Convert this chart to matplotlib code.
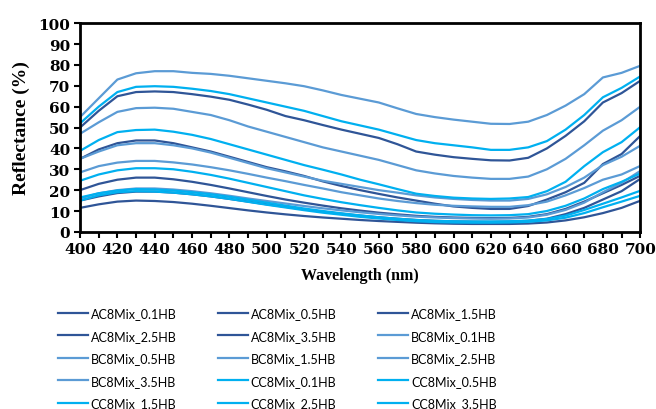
import matplotlib.pyplot as plt
import numpy as np

# wavelength grid (nm)
wl = np.arange(400, 701, 10)

# reflectance (%)
AC_01 = [50, 58, 65, 67, 67.3, 67, 66, 64.8, 63.3, 61, 58.5, 55.5, 53.5, 51.2, 49, 47, 45, 42, 38.5, 37, 35.8, 35, 34.3, 34.2, 35.5, 40, 46, 53, 62, 66.5, 72.4]
AC_05 = [35, 39.5, 42.5, 43.8, 43.8, 42.5, 40.5, 38.5, 36, 33.5, 31, 29, 26.8, 24.2, 22, 20, 18.2, 16.5, 15, 13.5, 12.2, 11.5, 11, 11, 12.4, 15.5, 19, 23.5, 32.5, 37.3, 46]
AC_15 = [20, 23, 25, 26, 26, 25.2, 24, 22.5, 20.8, 19, 17.2, 15.5, 14, 12.6, 11.3, 10.2, 9.2, 8.4, 7.7, 7.2, 6.9, 6.7, 6.6, 6.7, 7.2, 8.5, 11, 14.5, 18.5, 22.5, 26.9]
AC_25 = [15, 17, 18.6, 19.3, 19.3, 18.8, 18, 17, 15.8, 14.5, 13.2, 12, 10.8, 9.7, 8.7, 7.8, 7, 6.3, 5.7, 5.3, 5, 4.9, 4.8, 4.9, 5.3, 6.3, 8.5, 11.5, 15.5, 19.5, 25.4]
AC_35 = [11.5, 13.2, 14.5, 15, 14.8, 14.3, 13.5, 12.5, 11.4, 10.3, 9.3, 8.4, 7.6, 6.9, 6.3, 5.7, 5.2, 4.8, 4.4, 4.1, 3.9, 3.8, 3.8, 3.8, 4, 4.5, 5.5, 7, 9, 11.5, 14.9]
BC_01 = [55, 64, 73, 76, 77, 77, 76.2, 75.7, 74.8, 73.6, 72.4, 71.2, 69.8, 67.8, 65.6, 63.8, 62, 59.2, 56.5, 55, 53.8, 52.8, 51.8, 51.7, 52.8, 56, 60.5, 66, 74, 76.2, 79.6]
BC_05 = [47, 52.5, 57.5, 59.3, 59.5, 59, 57.5, 56, 53.5, 50.5, 48, 45.5, 43, 40.5, 38.5, 36.5, 34.5, 32, 29.5, 28, 26.8, 26, 25.4, 25.4, 26.5, 30, 35, 41.5, 48.5, 53.5, 60]
BC_15 = [35, 38.5, 41.5, 42.5, 42.5, 41.5, 40, 38, 35.5, 33, 30.5, 28.5, 26.5, 24.5, 23, 21.5, 20, 18.8, 17.5, 16.5, 15.8, 15.3, 15, 15, 15.8, 18, 21.5, 26, 32, 36, 41.3]
BC_25 = [28.5, 31.5, 33.2, 34, 34, 33.3, 32.3, 31, 29.5, 27.8, 26, 24.3, 22.5, 20.8, 19, 17.5, 16, 14.8, 13.8, 13, 12.5, 12.2, 12, 12, 12.8, 14.5, 17.5, 21, 25, 27.5, 31.6]
BC_35 = [16, 18.5, 20, 20.8, 20.8, 20.3, 19.5, 18.5, 17.3, 16, 14.8, 13.6, 12.4, 11.3, 10.3, 9.4, 8.6, 7.9, 7.3, 6.9, 6.6, 6.4, 6.3, 6.4, 6.9, 8.2, 10.5, 14, 19, 23.5, 29.2]
CC_01 = [52, 60, 67, 69.5, 69.8, 69.5, 68.6, 67.5, 66, 64, 62, 60, 58, 55.5, 53, 51, 49, 46.5, 44, 42.5, 41.5, 40.5, 39.3, 39.3, 40.5, 43.5, 49, 56, 64.5, 69, 74.5]
CC_05 = [38.8, 44, 47.8, 48.8, 49, 48, 46.5, 44.5, 42, 39.5, 37, 34.5, 32, 29.8, 27.5, 25, 22.8, 20.5, 18.3, 17.2, 16.4, 16, 15.8, 16, 16.7, 19.5, 24, 31.5, 38.2, 43, 50.2]
CC_15 = [24.5, 27.5, 29.5, 30.5, 30.5, 30, 28.8, 27.3, 25.5, 23.5, 21.5, 19.5, 17.5, 15.8, 14.2, 12.8, 11.5, 10.3, 9.3, 8.7, 8.3, 8, 7.9, 8, 8.5, 10, 12.5, 16, 20.5, 24, 28]
CC_25 = [16.5, 18.5, 19.8, 20.5, 20.3, 19.8, 19, 18, 16.8, 15.4, 14, 12.6, 11.2, 10, 8.9, 7.9, 7, 6.3, 5.7, 5.3, 5.1, 5, 5, 5.1, 5.4, 6.2, 7.8, 10.5, 13.5, 16.5, 19.7]
CC_35 = [15, 17.5, 19, 19.5, 19.3, 18.8, 18, 17, 15.8, 14.4, 13, 11.7, 10.4, 9.2, 8.2, 7.2, 6.4, 5.7, 5.1, 4.7, 4.5, 4.4, 4.4, 4.5, 4.8, 5.5, 6.8, 9, 11.8, 14.5, 17.3]

labels = ["AC8Mix_0.1HB", "AC8Mix_0.5HB", "AC8Mix_1.5HB", "AC8Mix_2.5HB", "AC8Mix_3.5HB",
          "BC8Mix_0.1HB", "BC8Mix_0.5HB", "BC8Mix_1.5HB", "BC8Mix_2.5HB", "BC8Mix_3.5HB",
          "CC8Mix_0.1HB", "CC8Mix_0.5HB", "CC8Mix_1.5HB", "CC8Mix_2.5HB", "CC8Mix_3.5HB"]
series = [AC_01, AC_05, AC_15, AC_25, AC_35,
          BC_01, BC_05, BC_15, BC_25, BC_35,
          CC_01, CC_05, CC_15, CC_25, CC_35]
colors = ["#2F5597"] * 5 + ["#5B9BD5"] * 5 + ["#00B0F0"] * 5

fig = plt.figure(figsize=(6.56, 4.1), dpi=100)
ax = fig.add_axes([0.122, 0.432, 0.854, 0.509])

lines = []
for y, lab, c in zip(series, labels, colors):
    ln, = ax.plot(wl, y, color=c, lw=1.6, label=lab)
    lines.append(ln)

ax.set_xlim(400, 700)
ax.set_ylim(0, 100)
ax.set_xticks(np.arange(400, 701, 20))
ax.set_xticks(np.arange(400, 701, 10), minor=True)
ax.set_yticks(np.arange(0, 101, 10))
ax.tick_params(which="both", direction="out", length=4, width=1.5, colors="black", pad=3)
for lab in ax.get_xticklabels() + ax.get_yticklabels():
    lab.set_fontfamily("DejaVu Serif")
    lab.set_fontweight("bold")
    lab.set_fontsize(11)
for s in ax.spines.values():
    s.set_linewidth(2)

ax.set_xlabel("Wavelength (nm)", family="Liberation Serif", weight="bold", fontsize=11.5, labelpad=8)
ax.set_ylabel("Reflectance (%)", family="Liberation Serif", weight="bold", fontsize=14, labelpad=6)

# legend filled row by row
order = [0, 3, 6, 9, 12, 1, 4, 7, 10, 13, 2, 5, 8, 11, 14]
fig.legend([lines[i] for i in order], [labels[i] for i in order],
           loc="upper left", bbox_to_anchor=(0.082, 0.258), ncol=3, frameon=False,
           prop={"family": "Lato", "size": 9},
           handlelength=2.4, handletextpad=0.25, columnspacing=3.3, labelspacing=0.85,
           borderaxespad=0, borderpad=0.3)

fig.savefig("out.png", dpi=100)
